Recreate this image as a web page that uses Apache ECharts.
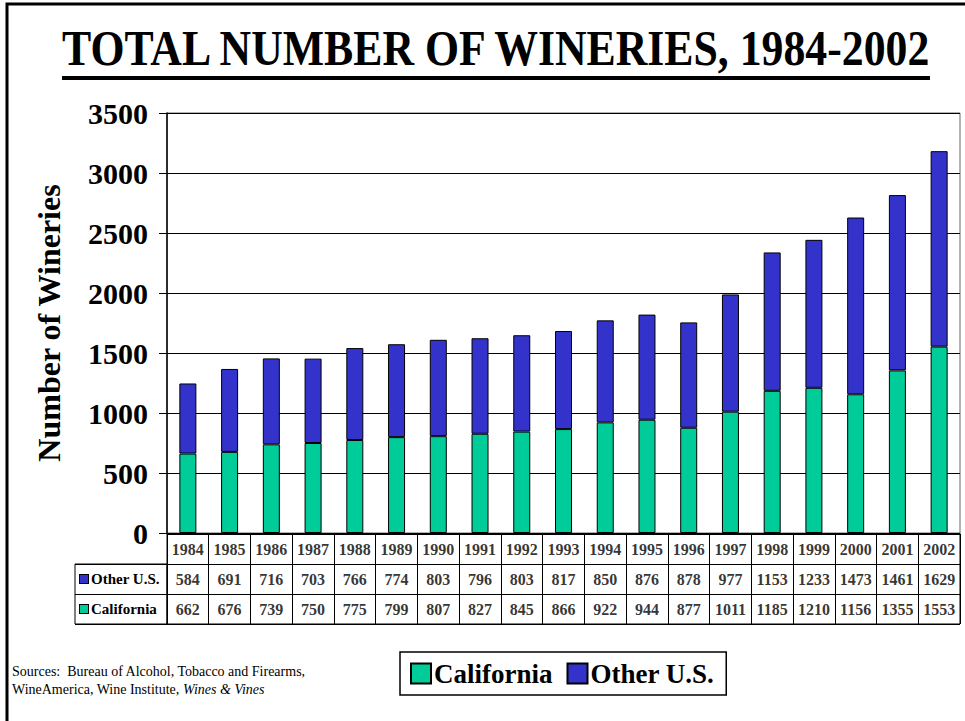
<!DOCTYPE html>
<html>
<head>
<meta charset="utf-8">
<script src="https://cdn.jsdelivr.net/npm/echarts@6/dist/echarts.min.js"></script>
<style>
    html, body { margin: 0; padding: 0; background: #fff; }
    #chart { width: 965px; height: 721px; }
</style>
</head>
<body>
<div id="chart"></div>
<script>
    // wineries per year
    const years = ['1984','1985','1986','1987','1988','1989','1990','1991','1992','1993',
                   '1994','1995','1996','1997','1998','1999','2000','2001','2002'];
    const california = [662,676,739,750,775,799,807,827,845,866,922,944,877,1011,1185,1210,1156,1355,1553];
    const otherUS = [584,691,716,703,766,774,803,796,803,817,850,876,878,977,1153,1233,1473,1461,1629];
    const tableRows = ['Year','Other U.S.','California'];

    const serif = "'Liberation Serif', 'Times New Roman', serif";
    const green = '#00CC99';
    const blue = '#3333CC';

    // table cells: year / other / california under each bar
    let cells = [];
    years.forEach(function (y, i) {
        cells.push([y, 'Year', y]);
        cells.push([y, 'Other U.S.', otherUS[i]]);
        cells.push([y, 'California', california[i]]);
    });

    let chart = echarts.init(document.getElementById('chart'), null, { renderer: 'svg' });
    let option = {
        backgroundColor: '#fff',
        animation: false,
        textStyle: { fontFamily: serif },
        graphic: [
            {
                type: 'rect',
                shape: { x: 7, y: 4, width: 1000, height: 800 },
                style: { fill: 'none', stroke: '#000', lineWidth: 3 },
                silent: true
            },
            {
                type: 'text',
                x: 62, y: 48,
                scaleX: 0.858,
                style: {
                    text: 'TOTAL NUMBER OF WINERIES, 1984-2002',
                    fontFamily: serif, fontWeight: 'bold', fontSize: 51,
                    fill: '#000', textAlign: 'left', textVerticalAlign: 'middle'
                }
            },
            {
                type: 'line',
                shape: { x1: 62, y1: 78, x2: 930, y2: 78 },
                style: { stroke: '#000', lineWidth: 4 }
            },
            {
                type: 'text',
                x: 12, y: 662,
                style: {
                    text: 'Sources:  Bureau of Alcohol, Tobacco and Firearms,\nWineAmerica, Wine Institute, {i|Wines & Vines}',
                    fontFamily: serif, fontSize: 14, lineHeight: 18, fill: '#000',
                    rich: { i: { fontStyle: 'italic', fontFamily: serif, fontSize: 14 } }
                }
            }
        ],
        legend: {
            data: ['California', 'Other U.S.'],
            left: 400, top: 652,
            padding: [8, 12, 8, 10],
            itemWidth: 20, itemHeight: 20, itemGap: 14,
            borderColor: '#000', borderWidth: 1.5,
            icon: 'rect',
            textStyle: { fontFamily: serif, fontWeight: 'bold', fontSize: 27, color: '#000', padding: [0, 0, 0, -2] }
        },
        grid: [
            { left: 167, width: 793, top: 113, height: 420, show: true, borderColor: '#666', borderWidth: 1 },
            { left: 167, width: 793, top: 534, height: 90, show: true, borderColor: '#000', borderWidth: 1 },
            { left: 75, width: 92, top: 564, height: 60, show: true, borderColor: '#000', borderWidth: 1 }
        ],
        xAxis: [
            {
                type: 'category', gridIndex: 0, data: years,
                axisLine: { lineStyle: { color: '#000', width: 1 } },
                axisTick: { show: false },
                axisLabel: { show: false }
            },
            {
                type: 'category', gridIndex: 1, data: years,
                axisLine: { show: false },
                axisTick: { show: false, interval: 0 },
                axisLabel: { show: false },
                splitLine: { show: true, interval: 0, lineStyle: { color: '#000', width: 1 } }
            },
            {
                type: 'value', gridIndex: 2, show: false
            }
        ],
        yAxis: [
            {
                type: 'value', gridIndex: 0, min: 0, max: 3500, interval: 500,
                name: 'Number of Wineries',
                nameLocation: 'middle', nameGap: 102,
                nameTextStyle: { fontFamily: serif, fontWeight: 'bold', fontSize: 32, color: '#000' },
                axisLine: { show: true, lineStyle: { color: '#000', width: 1.5 } },
                axisTick: { show: true, length: 8, lineStyle: { color: '#000' } },
                axisLabel: {
                    margin: 19, fontFamily: serif, fontWeight: 'bold', fontSize: 30, color: '#000',
                    formatter: function (v) { return String(v); }
                },
                splitLine: { lineStyle: { color: '#000', width: 1 } }
            },
            {
                type: 'category', gridIndex: 1, data: tableRows, inverse: true,
                axisLine: { show: false },
                axisTick: { show: false },
                axisLabel: { show: false },
                splitLine: { show: true, interval: 0, lineStyle: { color: '#000', width: 1 } }
            },
            {
                type: 'category', gridIndex: 2, data: ['Other U.S.', 'California'], inverse: true,
                axisLine: { show: false },
                axisTick: { show: false },
                splitLine: { show: true, interval: 0, lineStyle: { color: '#000', width: 1 } },
                axisLabel: {
                    inside: true, margin: 5, align: 'left',
                    formatter: function (v) {
                        return (v === 'California' ? '{g|}' : '{b|}') + ' {t|' + v + '}';
                    },
                    rich: {
                        g: { width: 8, height: 8, backgroundColor: green, borderColor: '#000', borderWidth: 1 },
                        b: { width: 8, height: 8, backgroundColor: blue, borderColor: '#000', borderWidth: 1 },
                        t: { fontFamily: serif, fontWeight: 'bold', fontSize: 15, color: '#000' }
                    }
                }
            }
        ],
        series: [
            {
                name: 'California', type: 'bar', stack: 'total',
                xAxisIndex: 0, yAxisIndex: 0,
                barWidth: 17,
                itemStyle: { color: green, borderColor: '#000', borderWidth: 1 },
                data: california
            },
            {
                name: 'Other U.S.', type: 'bar', stack: 'total',
                xAxisIndex: 0, yAxisIndex: 0,
                barWidth: 17,
                itemStyle: { color: blue, borderColor: '#000', borderWidth: 1 },
                data: otherUS
            },
            {
                name: 'table', type: 'scatter',
                xAxisIndex: 1, yAxisIndex: 1,
                symbolSize: 0, silent: true,
                label: {
                    show: true, position: 'inside',
                    formatter: function (p) { return p.value[2]; },
                    fontFamily: serif, fontWeight: 'bold', fontSize: 16, color: '#000'
                },
                data: cells
            }
        ]
    };
    chart.setOption(option);
</script>
</body>
</html>
